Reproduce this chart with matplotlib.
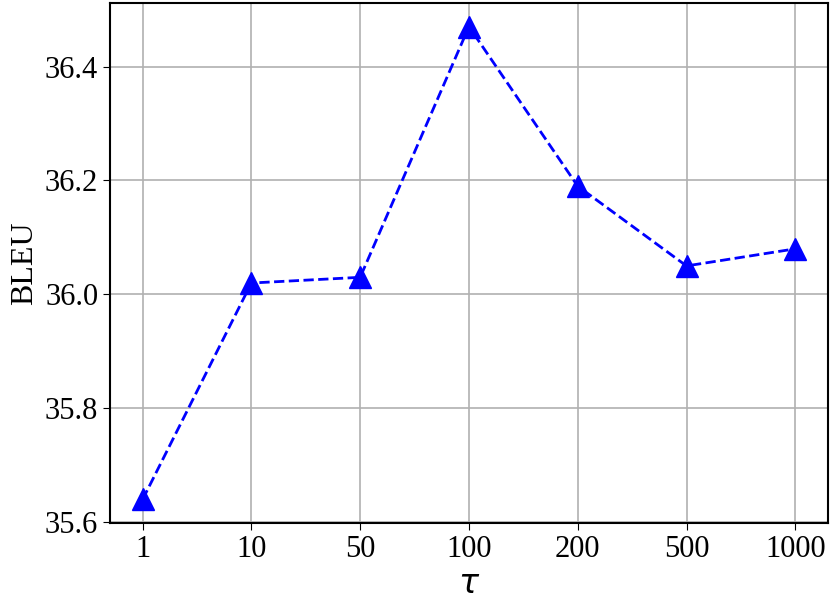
import matplotlib
matplotlib.use("Agg")
import matplotlib.pyplot as plt

taus = ["1", "10", "50", "100", "200", "500", "1000"]
bleu = [35.64, 36.02, 36.03, 36.47, 36.19, 36.05, 36.08]

plt.rcParams['font.family'] = ['Liberation Serif', 'DejaVu Sans']
plt.rcParams['mathtext.fontset'] = 'dejavusans'

fig = plt.figure(figsize=(8.3, 6.02), dpi=100)
ax = fig.add_axes([0.1325, 0.131, 0.865, 0.864])

x = list(range(len(taus)))
ax.plot(x, bleu, linestyle='--', color='blue', linewidth=2,
        marker='^', markersize=16)
ax.set_xticks(x)
ax.set_xticklabels(taus)
ax.set_yticks([35.6, 35.8, 36.0, 36.2, 36.4])
ax.tick_params(labelsize=22, length=5)
ax.grid(True, color='#b0b0b0', linewidth=1.2)
ax.set_axisbelow(True)
ax.set_xlabel(r"$\tau$", fontsize=24)
ax.set_ylabel("BLEU", fontsize=23)
for s in ax.spines.values():
    s.set_linewidth(1.5)

fig.savefig("out.png", dpi=100)
